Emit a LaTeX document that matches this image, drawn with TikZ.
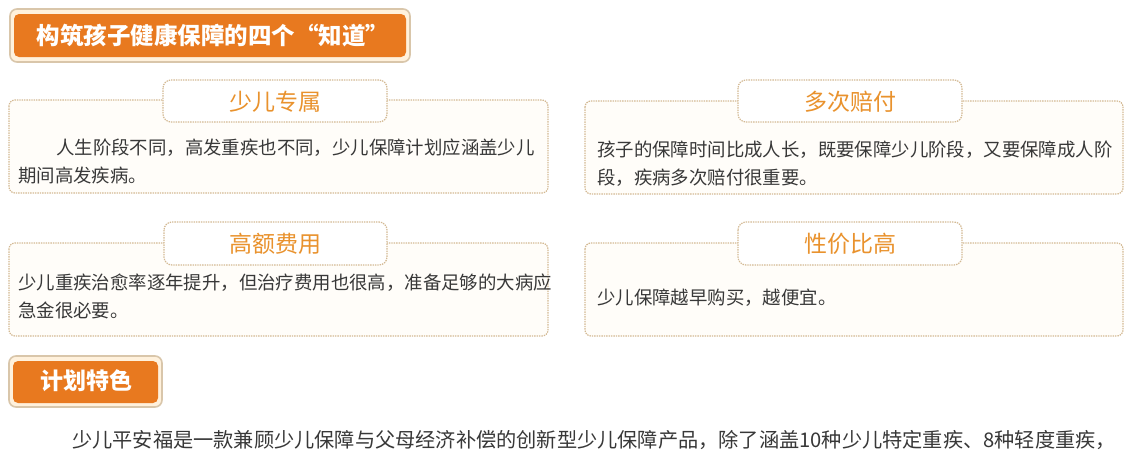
\documentclass[tikz,border=0pt]{standalone}
\usepackage{fontspec}
\setmainfont{Noto Sans CJK SC}
\definecolor{orangefill}{HTML}{E8791F}
\definecolor{ringline}{HTML}{D9C6AA}
\definecolor{ringfill}{HTML}{FFF1DC}
\definecolor{dotline}{HTML}{D3B993}
\definecolor{boxfill}{HTML}{FFFDF9}
\definecolor{tabtext}{HTML}{E9922D}
\definecolor{bodytext}{HTML}{383838}
\begin{document}
\begin{tikzpicture}[x=1pt,y=-1pt,
  ring/.style={draw=ringline,fill=ringfill,line width=1.6pt,rounded corners=7pt},
  orangebar/.style={fill=orangefill,rounded corners=5pt},
  headtext/.style={text=white,font=\fontsize{23.5}{28}\selectfont\bfseries,inner sep=0pt},
  infobox/.style={draw=dotline,fill=boxfill,line width=1.2pt,dash pattern=on 1.4pt off 1pt,rounded corners=6pt},
  tabbox/.style={draw=dotline,fill=white,line width=1.2pt,dash pattern=on 1.4pt off 1pt,rounded corners=8pt},
  tablabel/.style={text=tabtext,font=\fontsize{23}{26}\selectfont,inner sep=0pt},
  bodyline/.style={text=bodytext,font=\fontsize{18.4}{27.5}\selectfont,inner sep=0pt,align=left,anchor=north west}
]
\useasboundingbox (0,0) rectangle (1131,466);
\fill[white] (0,0) rectangle (1131,466);

% title
\draw[ring] (10,9) rectangle (410,62);
\fill[orangebar] (14,14) rectangle (406,57);
\node[headtext] (title) at (213,36) {构筑孩子健康保障的四个“知道”};

% box 1
\draw[infobox] (9,100) rectangle (548,193);
\draw[tabbox] (163,80) rectangle (387,122);
\node[tablabel] (t1) at (275,102) {少儿专属};
\node[bodyline] (b1) at (18,139) {\hspace*{38pt}人生阶段不同，高发重疾也不同，少儿保障计划应涵盖少儿\\期间高发疾病。};

% box 2
\draw[infobox] (585,101) rectangle (1123,194);
\draw[tabbox] (738,80) rectangle (962,122);
\node[tablabel] (t2) at (850,102) {多次赔付};
\node[bodyline] (b2) at (597,141) {孩子的保障时间比成人长，既要保障少儿阶段，又要保障成人阶\\段，疾病多次赔付很重要。};

% box 3
\draw[infobox] (9,243) rectangle (548,336);
\draw[tabbox] (164,222) rectangle (387,265);
\node[tablabel] (t3) at (275,244) {高额费用};
\node[bodyline] (b3) at (18,274) {少儿重疾治愈率逐年提升，但治疗费用也很高，准备足够的大病应\\急金很必要。};

% box 4
\draw[infobox] (585,243) rectangle (1123,336);
\draw[tabbox] (738,222) rectangle (962,265);
\node[tablabel] (t4) at (850,244) {性价比高};
\node[bodyline,anchor=west] (b4) at (597,298) {少儿保障越早购买，越便宜。};

% plan feature
\draw[ring] (9,356) rectangle (162,407);
\fill[orangebar] (13,361) rectangle (158,403);
\node[headtext,font=\fontsize{23}{26}\selectfont\bfseries] (plan) at (86,381) {计划特色};

\node[text=bodytext,font=\fontsize{20.2}{24}\selectfont,inner sep=0pt,anchor=west] (intro) at (72,440) {少儿平安福是一款兼顾少儿保障与父母经济补偿的创新型少儿保障产品，除了涵盖10种少儿特定重疾、8种轻度重疾，};
\end{tikzpicture}
\end{document}
